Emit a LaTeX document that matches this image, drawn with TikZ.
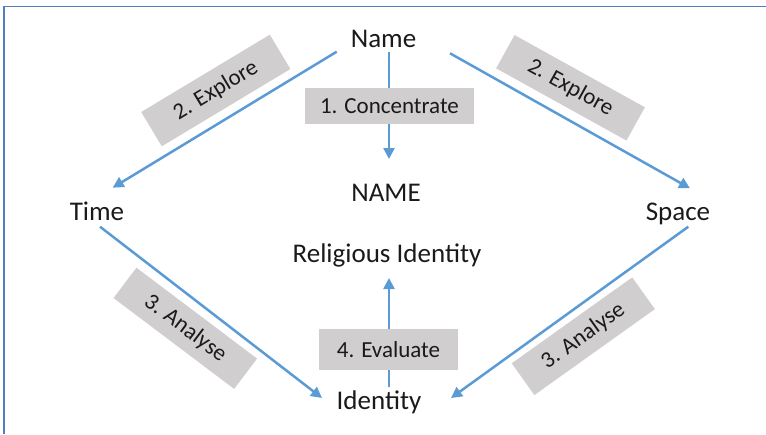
\documentclass[tikz,border=0pt]{standalone}
\usepackage{fontspec}
\setmainfont{Carlito}
\usetikzlibrary{arrows.meta,calc}
\definecolor{lineblue}{HTML}{5B9BD5}
\definecolor{frameblue}{HTML}{4F81BD}
\definecolor{boxgray}{HTML}{D0CECE}
\definecolor{txt}{HTML}{1A1A1A}
\tikzset{
  word/.style={anchor=base, inner sep=0pt, text=txt, font=\fontsize{27}{31}\selectfont},
  lbl/.style={fill=boxgray, inner sep=0pt, text=txt, font=\fontsize{23}{27}\selectfont, minimum width=150pt, minimum height=39pt},
  arr/.style={draw=lineblue, line width=2.5pt, -{Triangle[length=11pt,width=11pt]}}
}
\begin{document}
\begin{tikzpicture}[x=1pt,y=-1pt]
\useasboundingbox (0,0) rectangle (766,434);
% frame
\draw[frameblue, line width=1.8pt] (4.2,434) -- (4.2,6.5) -- (766,6.5);

% words
\node[word] (name) at (383.5,47.3) {Name};
\node[word] (NAME) at (386,201) {NAME};
\node[word] (relig) at (387,262.7) {Religious Identity};
\node[word] (time) at (97,220) {Time};
\node[word] (space) at (678,220) {Space};
\node[word] (ident) at (379,409) {Identity};

% connector end points, tied to the nodes
\path (name.base) ++(-46.8,4.4) coordinate (nameL);
\path (name.base) ++(66.5,6) coordinate (nameR);
\path (name.base) ++(5.5,4.7) coordinate (nameD);
\path (time.base) ++(15.7,-32.3) coordinate (timeT);
\path (time.base) ++(3,6.7) coordinate (timeB);
\path (space.base) ++(12,-31.7) coordinate (spaceT);
\path (space.base) ++(10.3,6.7) coordinate (spaceB);
\path (NAME.base) ++(3,-42) coordinate (NAMEt);
\path (relig.base) ++(2,15.3) coordinate (religB);
\path (ident.base) ++(-57,-11) coordinate (identL);
\path (ident.base) ++(72,-11) coordinate (identR);
\path (ident.base) ++(10,-22) coordinate (identT);

% connectors
\draw[arr] (nameL) -- (timeT);
\draw[arr] (nameR) -- (spaceT);
\draw[arr] (nameD) -- (NAMEt);
\draw[arr] (timeB) -- (identL);
\draw[arr] (spaceB) -- (identR);
\draw[arr] (identT) -- (religB);

% label boxes (drawn over the connectors)
\node[lbl, minimum width=169pt, minimum height=36pt] (conc) at (389.5,106) {1. Concentrate\hspace{7pt}};
\node[lbl, minimum width=139pt, minimum height=41pt] (eval) at (388.5,349.5) {4. Evaluate\hspace{8pt}};
\node[lbl, minimum width=150pt, minimum height=40pt, rotate=31] (exL) at (215.8,90.5) {2. Explore};
\node[lbl, minimum width=149pt, minimum height=38pt, rotate=-29] (exR) at (570.5,87.8) {2. Explore};
\node[lbl, minimum width=151pt, minimum height=38pt, rotate=-37] (anL) at (185.3,328.3) {3. Analyse};
\node[lbl, minimum width=148pt, minimum height=39pt, rotate=35.5] (anR) at (583.3,336.2) {3. Analyse};
\end{tikzpicture}
\end{document}
